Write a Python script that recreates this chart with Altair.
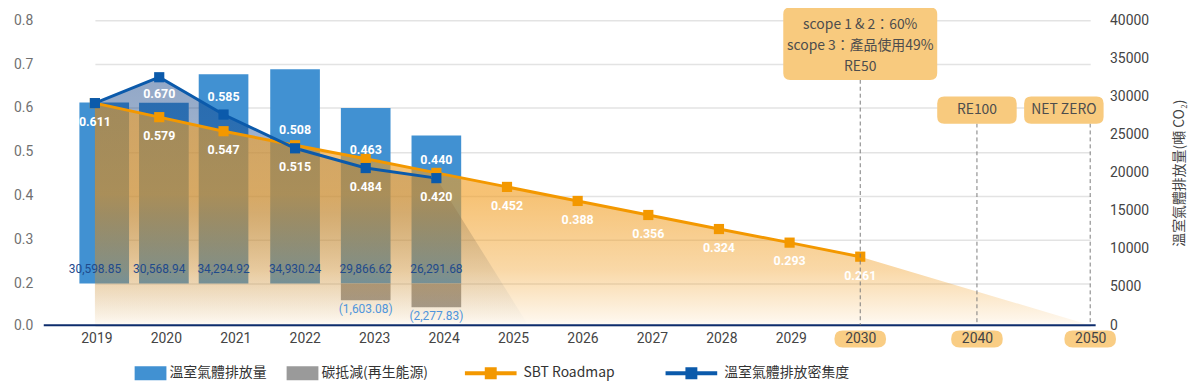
import altair as alt
import pandas as pd

# ---------------- data ----------------
hist_years = [2019, 2020, 2021, 2022, 2023, 2024]
emissions = [30598.85, 30568.94, 34294.92, 34930.24, 29866.62, 26291.68]
offset_years = [2023, 2024]
offsets = [-1603.08, -2277.83]
intensity = [0.611, 0.670, 0.585, 0.508, 0.463, 0.440]
intensity_labels = ["", "0.670", "0.585", "0.508", "0.463", "0.440"]
sbt_years = [2019, 2020, 2021, 2022, 2023, 2024, 2025, 2026, 2027, 2028, 2029, 2030]
sbt = [0.611, 0.579, 0.547, 0.515, 0.484, 0.452, 0.420, 0.388, 0.356, 0.324, 0.293, 0.261]
sbt_labels = ["0.611", "0.579", "0.547", "0.515", "0.484", "0.420", "0.452",
              "0.388", "0.356", "0.324", "0.293", "0.261"]
sbt_area_end = [2050, 0.0]
intensity_area_end = [2025.3, 0.0]
axis_years = [2019, 2020, 2021, 2022, 2023, 2024, 2025, 2026, 2027, 2028, 2029, 2030, 2040, 2050]
milestone_years = [2030, 2040, 2050]
milestone_texts = ["scope 1 & 2：60%\nscope 3：產品使用49%\nRE50", "RE100", "NET ZERO"]
bar_series = ["溫室氣體排放量", "碳抵減(再生能源)"]
line_series = ["SBT Roadmap", "溫室氣體排放密集度"]
left_ticks = [0.0, 0.2, 0.3, 0.4, 0.5, 0.6, 0.7, 0.8]
right_ticks = [0, 5000, 10000, 15000, 20000, 25000, 30000, 35000, 40000]
right_title = "溫室氣體排放量(噸 CO₂)"

# ---------------- layout / style ----------------
W, H = 1059, 307
BLUE_BAR = "#4191d2"
GRAY_BAR = "#9a9a9a"
ORANGE = "#f39800"
BLUE_LINE = "#0b5aab"
NAVY = "#0d2c6c"
BOX = "#f8ca7e"
CJK = "Noto Sans CJK TC"
NUM = "Roboto"

x_data = alt.Scale(domain=[2019, 2021, 2022, 2030, 2040, 2050],
                   range=[51.5, 181, 253, 822, 939.5, 1053.5], nice=False, zero=False)
x_axis_scale = alt.Scale(domain=[2019, 2030, 2040, 2050],
                         range=[53, 822, 939.5, 1053.5], nice=False, zero=False)
y_left = alt.Scale(domain=[0, 0.2, 0.8], range=[H, 265, 0], nice=False, zero=False)
y_right = alt.Scale(domain=[0, 40000], range=[H, 0], nice=False, zero=False)
y_bar = alt.Scale(domain=[-2500, 0, 20000, 40000], range=[291.25, 265, 164.5, 10.3],
                  nice=False, zero=False)


def rrect(w, h, r):
    hh = h / w
    rr = 2 * r / w
    return (f"M{-1+rr:.4f},{-hh:.4f}H{1-rr:.4f}Q1,{-hh:.4f} 1,{-hh+rr:.4f}"
            f"V{hh-rr:.4f}Q1,{hh:.4f} {1-rr:.4f},{hh:.4f}H{-1+rr:.4f}"
            f"Q-1,{hh:.4f} -1,{hh-rr:.4f}V{-hh+rr:.4f}Q-1,{-hh:.4f} {-1+rr:.4f},{-hh:.4f}Z")


def sq(h):
    return f"M{-h},{-h}H{h}V{h}H{-h}Z"


def X_NONE(sc):
    return alt.X("year:Q", scale=sc, axis=None)


left_axis = alt.Axis(orient="left", values=left_ticks, format=".1f", grid=True,
                     gridColor="#e3e3e3", gridWidth=1.5, domain=False, ticks=False,
                     tickSize=0, labelPadding=11, labelFont=NUM, labelFontSize=14,
                     labelColor="#707070", title=None, labelOverlap=False)

# ---------------- bars ----------------
bars_df = pd.DataFrame({
    "year": hist_years + offset_years,
    "value": emissions + offsets,
    "bar_series": [bar_series[0]] * len(hist_years) + [bar_series[1]] * len(offset_years),
})
bars_grp = alt.Chart(bars_df).mark_bar(width=50, orient="vertical").encode(
    x=X_NONE(x_data),
    y=alt.Y("value:Q", scale=y_bar, axis=None, stack=None),
    fill=alt.Fill("bar_series:N",
                  scale=alt.Scale(domain=bar_series, range=[BLUE_BAR, GRAY_BAR]),
                  legend=alt.Legend(orient="none", legendX=91.5, legendY=339,
                                    direction="horizontal", title=None,
                                    symbolType="M-1,-0.44H1V0.44H-1Z", symbolSize=1024,
                                    symbolStrokeWidth=0, labelOffset=3, columnPadding=20,
                                    labelFont=CJK, labelFontSize=14, labelColor="#333333")),
)

# ---------------- right axis ----------------
pos_df = pd.DataFrame({"year": hist_years, "value": emissions})
raxis_grp = alt.Chart(pos_df).mark_point(opacity=0).encode(
    x=X_NONE(x_data),
    y=alt.Y("value:Q", scale=y_right,
            axis=alt.Axis(orient="right", values=right_ticks, format="d", domain=False,
                          ticks=False, tickSize=0, grid=False, labelPadding=14,
                          labelFont=NUM, labelFontSize=14, labelColor="#444444",
                          title=right_title, titleFont=CJK, titleFontSize=14,
                          titleFontWeight="normal", titleColor="#444444", titleAngle=270,
                          titleX=84, titleY=H / 2, titleAlign="center",
                          titleBaseline="middle")),
)

# ---------------- intensity lines & areas ----------------
blue_area_df = pd.DataFrame({"year": hist_years + [intensity_area_end[0]],
                             "value": intensity + [intensity_area_end[1]]})
orange_area_df = pd.DataFrame({"year": sbt_years + [sbt_area_end[0]],
                               "value": sbt + [sbt_area_end[1]]})

blue_grad = alt.Gradient(gradient="linear", x1=0, x2=0, y1=0, y2=1, stops=[
    alt.GradientStop(color="rgba(12,60,130,0.45)", offset=0),
    alt.GradientStop(color="rgba(12,60,130,0.33)", offset=0.55),
    alt.GradientStop(color="rgba(12,60,130,0.10)", offset=0.8),
    alt.GradientStop(color="rgba(12,60,130,0.0)", offset=1),
])
orange_grad = alt.Gradient(gradient="linear", x1=0, x2=0, y1=0, y2=1, stops=[
    alt.GradientStop(color="rgba(241,158,35,0.60)", offset=0),
    alt.GradientStop(color="rgba(241,158,35,0.63)", offset=0.41),
    alt.GradientStop(color="rgba(241,158,35,0.40)", offset=0.75),
    alt.GradientStop(color="rgba(241,158,35,0.10)", offset=0.97),
    alt.GradientStop(color="rgba(241,158,35,0.04)", offset=1),
])


def YL(f):
    return alt.Y(f, scale=y_left, axis=left_axis)


blue_area = alt.Chart(blue_area_df).mark_area(fill=blue_grad, opacity=1).encode(
    x=X_NONE(x_data), y=YL("value:Q"))
orange_area = alt.Chart(orange_area_df).mark_area(fill=orange_grad, opacity=1).encode(
    x=X_NONE(x_data), y=YL("value:Q"))
base_rule = alt.Chart(pd.DataFrame({"value": [0.0]})).mark_rule(
    color=NAVY, strokeWidth=2).encode(y=YL("value:Q"))

sbt_df = pd.DataFrame({"year": sbt_years, "value": sbt, "label": sbt_labels,
                       "line_series": line_series[0]})
blue_lookup = dict(zip(hist_years, intensity))
sbt_df["anchor"] = [min(v, blue_lookup.get(y, v)) for y, v in zip(sbt_years, sbt)]
blue_df = pd.DataFrame({"year": hist_years, "value": intensity, "label": intensity_labels,
                        "line_series": line_series[1]})
lines_df = pd.concat([sbt_df[["year", "value", "line_series"]],
                      blue_df[["year", "value", "line_series"]]])

# legend symbol: a line with a (stroke-filled) square marker in the middle
line_symbol = "M-1,0H1" + sq(0.154) + sq(0.077) + sq(0.01)
line_legend = alt.Legend(
    orient="none", legendX=422, legendY=327, direction="horizontal", title=None,
    symbolType=line_symbol, symbolSize=2704, symbolStrokeWidth=4,
    symbolFillColor="transparent", symbolOpacity=1,
    labelOffset=5, columnPadding=43, labelFont=CJK,
    labelFontSize=14, labelColor="#333333")

lines = alt.Chart(lines_df).mark_line(strokeWidth=3).encode(
    x=X_NONE(x_data), y=YL("value:Q"),
    stroke=alt.Stroke("line_series:N",
                      scale=alt.Scale(domain=line_series, range=[ORANGE, BLUE_LINE]),
                      legend=line_legend))
points_orange = alt.Chart(sbt_df).mark_square(size=105, filled=True, opacity=1,
                                              color=ORANGE).encode(
    x=X_NONE(x_data), y=YL("value:Q"))
points_blue = alt.Chart(blue_df).mark_square(size=105, filled=True, opacity=1,
                                             color=BLUE_LINE).encode(
    x=X_NONE(x_data), y=YL("value:Q"))

lab_style = dict(color="white", fontWeight="bold", fontSize=12.5, font=NUM, baseline="middle")
sbt_text = alt.Chart(sbt_df).mark_text(dy=19, **lab_style).encode(
    x=X_NONE(x_data), y=YL("anchor:Q"), text="label:N")
blue_text_above = alt.Chart(blue_df).transform_filter(
    "datum.label != '' && datum.year >= 2021").mark_text(dy=-18, **lab_style).encode(
    x=X_NONE(x_data), y=YL("value:Q"), text="label:N")
blue_text_below = alt.Chart(blue_df).transform_filter(
    "datum.label != '' && datum.year < 2021").mark_text(dy=16.5, **lab_style).encode(
    x=X_NONE(x_data), y=YL("value:Q"), text="label:N")

int_grp = alt.layer(blue_area, orange_area, base_rule, lines, points_orange, points_blue,
                    sbt_text, blue_text_above, blue_text_below)

# ---------------- milestones (dashed rules + boxes) ----------------
ms_df = pd.DataFrame({"year": milestone_years, "text": milestone_texts})
big = "datum.year == 2030"
mid = "datum.year == 2040"
end = "datum.year == 2050"
dash = dict(strokeDash=[4, 3], color="#7c7c7c", strokeWidth=1)
box_txt = dict(font=CJK, fontSize=14, color="#4d4d4d", baseline="middle", align="center")

rule_big = alt.Chart(ms_df).transform_filter(big).mark_rule(**dash).encode(
    x=X_NONE(x_data), y=alt.value(60), y2=alt.value(H))
rule_small = alt.Chart(ms_df).transform_filter(f"!({big})").mark_rule(**dash).encode(
    x=X_NONE(x_data), y=alt.value(104), y2=alt.value(H))
box_big = alt.Chart(ms_df).transform_filter(big).mark_point(
    shape=rrect(155, 73, 7), size=155 ** 2, filled=True, color=BOX, opacity=1,
    strokeWidth=0).encode(x=X_NONE(x_data), y=alt.value(23.6))
text_big = alt.Chart(ms_df).transform_filter(big).mark_text(
    lineBreak="\n", lineHeight=21, **box_txt).encode(
    x=X_NONE(x_data), y=alt.value(5.3), text="text:N")
box_mid = alt.Chart(ms_df).transform_filter(mid).mark_point(
    shape=rrect(80, 27.5, 7), size=80 ** 2, filled=True, color=BOX, opacity=1,
    strokeWidth=0).encode(x=X_NONE(x_data), y=alt.value(90.5))
text_mid = alt.Chart(ms_df).transform_filter(mid).mark_text(**box_txt).encode(
    x=X_NONE(x_data), y=alt.value(90.5), text="text:N")
box_end = alt.Chart(ms_df).transform_filter(end).mark_point(
    shape=rrect(80, 27.5, 7), size=80 ** 2, filled=True, color=BOX, opacity=1,
    strokeWidth=0, xOffset=-26.5).encode(x=X_NONE(x_data), y=alt.value(90.5))
text_end = alt.Chart(ms_df).transform_filter(end).mark_text(xOffset=-26.5, **box_txt).encode(
    x=X_NONE(x_data), y=alt.value(90.5), text="text:N")

deco_grp = alt.layer(rule_big, rule_small, box_big, text_big, box_mid, text_mid,
                     box_end, text_end)

# ---------------- x axis with pills ----------------
pill_df = pd.DataFrame({"year": milestone_years})
xaxis_grp = alt.Chart(pill_df).mark_point(
    shape=rrect(52, 17, 8.5), size=52 ** 2, filled=True, color="#f9cd84", opacity=1,
    strokeWidth=0).encode(
    x=alt.X("year:Q", scale=x_axis_scale,
            axis=alt.Axis(orient="bottom", values=axis_years, format="d", domain=False,
                          ticks=False, tickSize=0, grid=False, labelPadding=6,
                          labelFont=NUM, labelFontSize=14, labelColor="#444444",
                          labelFlush=False, labelOverlap=False, zindex=1, title=None)),
    y=alt.value(321))

# ---------------- bar value labels ----------------
pos_lab = alt.Chart(pos_df).transform_calculate(
    txt="format(datum.value, ',.2f')").mark_text(
    dy=-14, baseline="middle", font=NUM, fontSize=12, color="#1f4a8c").encode(
    x=X_NONE(x_data), y=alt.Y(datum=0, scale=y_bar, axis=None), text="txt:N")
neg_df = pd.DataFrame({"year": offset_years, "value": offsets})
neg_lab = alt.Chart(neg_df).transform_calculate(
    txt="'(' + format(-datum.value, ',.2f') + ')'").mark_text(
    dy=4, baseline="top", font=NUM, fontSize=12, color="#4f95dc").encode(
    x=X_NONE(x_data), y=alt.Y("value:Q", scale=y_bar, axis=None), text="txt:N")
barlab_grp = alt.layer(pos_lab, neg_lab)

chart = alt.layer(bars_grp, raxis_grp, int_grp, deco_grp, xaxis_grp, barlab_grp).resolve_scale(
    x="independent", y="independent"
).properties(
    width=W, height=H,
    autosize=alt.AutoSizeParams(type="none"),
    padding={"left": 36, "top": 11, "right": 97, "bottom": 63},
    background="white",
).configure_view(strokeWidth=0)

chart.save("out.html", embed_options={"renderer": "svg", "actions": False})
